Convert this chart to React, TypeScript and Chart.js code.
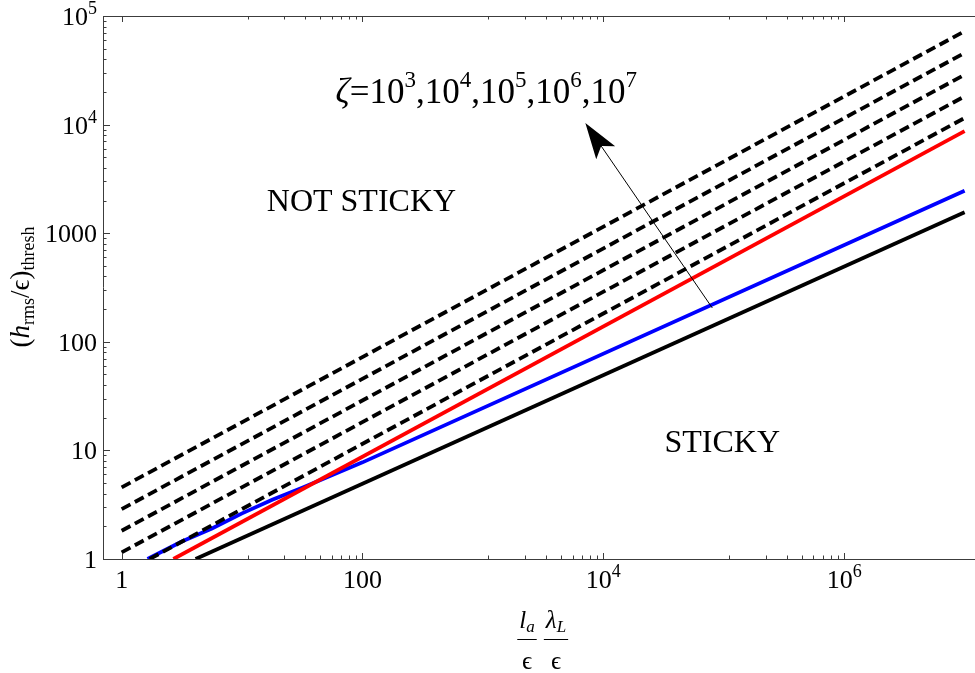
import React, { useEffect, useRef } from "react";
import { Chart, registerables } from "chart.js";
Chart.register(...registerables);

// ---------- data ----------
const blackX = [4.11, 1e7];
const blackY = [1, 1560];
const redX = [2.69, 1e7];
const redY = [1, 8710];
const blueX = [1.64, 3.16, 5.62, 10, 17.8, 31.6, 100, 1e7];
const blueY = [1, 1.45, 1.91, 2.63, 3.51, 4.52, 7.76, 2455];
const zetaStartX = [1, 1, 1, 1, 1.71];
const zetaStartY = [4.57, 2.88, 1.82, 1.15, 1];
const zetaEndX = [1e7, 1e7, 1e7, 1e7, 1e7];
const zetaEndY = [72400, 45700, 28800, 18200, 11500];
const zetaExponents = ["3", "4", "5", "6", "7"];

const xMajorTicks = [1, 100, 1e4, 1e6];
const xTickLabels = [["1", ""], ["100", ""], ["10", "4"], ["10", "6"]];
const yMajorTicks = [1, 10, 100, 1000, 1e4, 1e5];
const yTickLabels = [["1", ""], ["10", ""], ["100", ""], ["1000", ""], ["10", "4"], ["10", "5"]];

// annotation anchors (data coordinates)
const zetaLabelAt = { x: 59.7, y: 15800 };
const notStickyAt = { x: 98, y: 1600 };
const stickyAt = { x: 97200, y: 9.67 };
const arrowTail = { x: 80300, y: 205 };
const arrowTip = { x: 7090, y: 10350 };

const X_MIN = 0.709;
const X_MAX = 1.22e7;
const Y_MIN = 1;
const Y_MAX = 1e5;

const FONT = '"Liberation Serif", "DejaVu Serif", serif';

type Seg = { t: string; size: number; italic?: boolean; dy?: number };

function segFont(s: Seg) {
  return `${s.italic ? "italic " : ""}${s.size}px ${FONT}`;
}
function richWidth(ctx: CanvasRenderingContext2D, segs: Seg[]) {
  let w = 0;
  for (const s of segs) {
    ctx.font = segFont(s);
    w += ctx.measureText(s.t).width;
  }
  return w;
}
function drawRich(ctx: CanvasRenderingContext2D, segs: Seg[], x: number, y: number, align: string) {
  const w = richWidth(ctx, segs);
  let cx = align === "center" ? x - w / 2 : align === "right" ? x - w : x;
  ctx.textAlign = "left";
  ctx.textBaseline = "alphabetic";
  for (const s of segs) {
    ctx.font = segFont(s);
    ctx.fillText(s.t, cx, y + (s.dy || 0));
    cx += ctx.measureText(s.t).width;
  }
  return w;
}

function tickSegs(lbl: string[], size: number, supSize: number, rise: number): Seg[] {
  const segs: Seg[] = [{ t: lbl[0], size }];
  if (lbl[1]) segs.push({ t: lbl[1], size: supSize, dy: -rise });
  return segs;
}

function xMinorTicks() {
  const out: number[] = [];
  for (let i = 0; i < xMajorTicks.length; i++) {
    const next = i + 1 < xMajorTicks.length ? xMajorTicks[i + 1] : xMajorTicks[i] * 100;
    for (let k = 1; k <= 8; k++) {
      const v = (k / 9) * next;
      if (v > xMajorTicks[i] && v <= 1e7) out.push(v);
    }
  }
  return out;
}
function yMinorTicks() {
  const out: number[] = [];
  for (let i = 0; i < yMajorTicks.length - 1; i++) {
    for (let k = 2; k <= 9; k++) out.push(k * yMajorTicks[i]);
  }
  return out;
}

const framePlugin = {
  id: "frameAndText",
  afterDatasetsDraw(chart: any) {
    const { ctx, chartArea: a, scales } = chart;
    const xs = scales.x;
    const ys = scales.y;
    ctx.save();
    // frame
    ctx.strokeStyle = "#3c3c3c";
    ctx.lineWidth = 1;
    ctx.beginPath();
    ctx.moveTo(a.left + 0.5, a.top);
    ctx.lineTo(a.left + 0.5, a.bottom);
    ctx.moveTo(a.left, a.bottom + 0.5);
    ctx.lineTo(a.right, a.bottom + 0.5);
    ctx.moveTo(a.left, a.top + 0.5);
    ctx.lineTo(a.right, a.top + 0.5);
    // x ticks (bottom & top, inward)
    const xt: [number, number][] = [];
    xMajorTicks.forEach((v) => xt.push([v, 6]));
    xMinorTicks().forEach((v) => xt.push([v, 3.5]));
    for (const [v, len] of xt) {
      const px = Math.round(xs.getPixelForValue(v)) + 0.5;
      ctx.moveTo(px, a.bottom);
      ctx.lineTo(px, a.bottom - len);
      ctx.moveTo(px, a.top);
      ctx.lineTo(px, a.top + len);
    }
    // y ticks (left, inward)
    const yt: [number, number][] = [];
    yMajorTicks.forEach((v) => yt.push([v, 7]));
    yMinorTicks().forEach((v) => yt.push([v, 3.5]));
    for (const [v, len] of yt) {
      const py = Math.round(ys.getPixelForValue(v)) + 0.5;
      ctx.moveTo(a.left, py);
      ctx.lineTo(a.left + len, py);
    }
    ctx.stroke();

    ctx.fillStyle = "#000";
    // tick labels
    xMajorTicks.forEach((v, i) => {
      const px = xs.getPixelForValue(v);
      drawRich(ctx, tickSegs(xTickLabels[i], 26, 18, 11), px, a.bottom + 29, "center");
    });
    yMajorTicks.forEach((v, i) => {
      const py = ys.getPixelForValue(v);
      drawRich(ctx, tickSegs(yTickLabels[i], 26, 18, 11), a.left - 6, py + 9, "right");
    });

    // y axis title
    ctx.save();
    ctx.translate(29, 287);
    ctx.rotate(-Math.PI / 2);
    drawRich(
      ctx,
      [
        { t: "(", size: 27 },
        { t: "h", size: 27, italic: true },
        { t: "rms", size: 18, dy: 5 },
        { t: "/", size: 27 },
        { t: "\u03F5", size: 27 },
        { t: ")", size: 27 },
        { t: "thresh", size: 18, dy: 5 },
      ],
      0,
      0,
      "center"
    );
    ctx.restore();

    // x axis title: two fractions
    const fracs: { num: Seg[]; cx: number }[] = [
      { num: [{ t: "l", size: 25, italic: true }, { t: "a", size: 17, italic: true, dy: 4 }], cx: 527 },
      { num: [{ t: "\u03BB", size: 25, italic: true }, { t: "L", size: 17, italic: true, dy: 4 }], cx: 556 },
    ];
    for (const f of fracs) {
      const w = drawRich(ctx, f.num, f.cx, 628, "center");
      ctx.beginPath();
      ctx.lineWidth = 1;
      ctx.strokeStyle = "#000";
      ctx.moveTo(f.cx - w / 2 - 2, 639.5);
      ctx.lineTo(f.cx + w / 2 + 2, 639.5);
      ctx.stroke();
      drawRich(ctx, [{ t: "\u03F5", size: 25 }], f.cx, 669, "center");
    }

    // annotations
    const zsegs: Seg[] = [
      { t: "\u03B6", size: 35, italic: true },
      { t: "=", size: 35 },
    ];
    zetaExponents.forEach((e, i) => {
      zsegs.push({ t: "10", size: 35 });
      zsegs.push({ t: e, size: 23, dy: -16 });
      if (i < zetaExponents.length - 1) zsegs.push({ t: ",", size: 35 });
    });
    drawRich(ctx, zsegs, xs.getPixelForValue(zetaLabelAt.x), ys.getPixelForValue(zetaLabelAt.y), "left");
    drawRich(ctx, [{ t: "NOT STICKY", size: 32 }], xs.getPixelForValue(notStickyAt.x), ys.getPixelForValue(notStickyAt.y), "center");
    drawRich(ctx, [{ t: "STICKY", size: 32 }], xs.getPixelForValue(stickyAt.x), ys.getPixelForValue(stickyAt.y), "center");

    // arrow
    const tx = xs.getPixelForValue(arrowTail.x);
    const ty = ys.getPixelForValue(arrowTail.y);
    const hx = xs.getPixelForValue(arrowTip.x);
    const hy = ys.getPixelForValue(arrowTip.y);
    const dx = hx - tx;
    const dy = hy - ty;
    const L = Math.hypot(dx, dy);
    const ux = dx / L;
    const uy = dy / L;
    const nx = -uy;
    const ny = ux;
    const headLen = 36;
    const headHalf = 11.5;
    const notch = 28;
    ctx.beginPath();
    ctx.lineWidth = 1;
    ctx.strokeStyle = "#000";
    ctx.moveTo(tx, ty);
    ctx.lineTo(hx - ux * notch, hy - uy * notch);
    ctx.stroke();
    ctx.beginPath();
    ctx.moveTo(hx, hy);
    ctx.lineTo(hx - ux * headLen + nx * headHalf, hy - uy * headLen + ny * headHalf);
    ctx.lineTo(hx - ux * notch, hy - uy * notch);
    ctx.lineTo(hx - ux * headLen - nx * headHalf, hy - uy * headLen - ny * headHalf);
    ctx.closePath();
    ctx.fillStyle = "#000";
    ctx.fill();

    ctx.restore();
  },
};

function pts(xs: number[], ys: number[]) {
  return xs.map((x, i) => ({ x, y: ys[i] }));
}

export default function App() {
  const ref = useRef<HTMLCanvasElement | null>(null);
  useEffect(() => {
    if (!ref.current) return;
    const zetaSets = zetaStartX.map((sx, i) => ({
      data: pts([sx, zetaEndX[i]], [zetaStartY[i], zetaEndY[i]]),
      borderColor: "#000",
      borderWidth: 3.8,
      borderDash: [10, 5],
      showLine: true,
      pointRadius: 0,
      order: 0,
    }));
    const chart = new Chart(ref.current, {
      type: "scatter",
      data: {
        datasets: [
          { data: pts(blackX, blackY), borderColor: "#000", borderWidth: 3.8, showLine: true, pointRadius: 0, order: 3 },
          { data: pts(blueX, blueY), borderColor: "#0000ff", borderWidth: 3.8, showLine: true, pointRadius: 0, order: 2 },
          { data: pts(redX, redY), borderColor: "#ff0000", borderWidth: 3.8, showLine: true, pointRadius: 0, order: 1 },
          ...zetaSets,
        ] as any,
      },
      options: {
        animation: false,
        responsive: false,
        devicePixelRatio: 1,
        layout: { padding: { top: 16, right: 0, left: 0, bottom: 0 } },
        plugins: { legend: { display: false }, tooltip: { enabled: false } },
        scales: {
          x: {
            type: "logarithmic",
            min: X_MIN,
            max: X_MAX,
            grid: { display: false },
            border: { display: false },
            ticks: { display: false },
            afterFit: (s: any) => {
              s.height = 114;
            },
          },
          y: {
            type: "logarithmic",
            min: Y_MIN,
            max: Y_MAX,
            grid: { display: false },
            border: { display: false },
            ticks: { display: false },
            afterFit: (s: any) => {
              s.width = 103;
            },
          },
        },
      } as any,
      plugins: [framePlugin],
    });
    return () => chart.destroy();
  }, []);
  return (
    <div style={{ position: "absolute", left: 0, top: 0, width: 975, height: 673, background: "#fff" }}>
      <canvas ref={ref} width={975} height={673} style={{ width: 975, height: 673, display: "block" }} />
    </div>
  );
}
